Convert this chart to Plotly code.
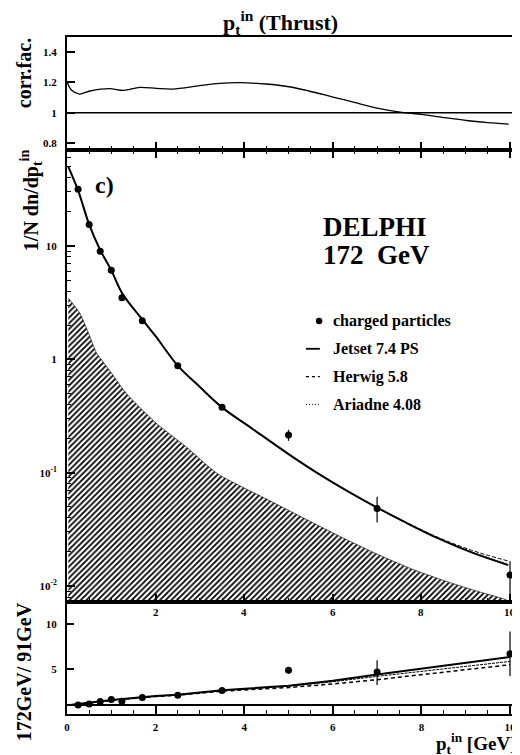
import plotly.graph_objects as go

# ---------------- data ----------------
CORR_X = [0.0, 0.1, 0.28, 0.52, 0.97, 1.27, 1.64, 2.02, 2.39, 2.99, 3.44, 3.89, 4.49,
          5.01, 5.46, 5.98, 6.51, 7.03, 7.56, 8.0, 8.53, 9.06, 9.5, 9.97]
CORR_Y = [1.204, 1.149, 1.123, 1.143, 1.158, 1.147, 1.167, 1.160, 1.156, 1.178, 1.193,
          1.198, 1.189, 1.171, 1.143, 1.105, 1.066, 1.029, 1.002, 0.989, 0.967, 0.947,
          0.934, 0.925]
CORR_REF = 1.0

PT_X = [0.25, 0.5, 0.75, 1.0, 1.24, 1.7, 2.5, 3.5, 5.0, 7.0, 10.0]
DATA_172 = [31.6, 15.5, 9.0, 6.1, 3.5, 2.19, 0.88, 0.377, 0.215, 0.0484, 0.0125]
DATA_ERR_UP = [0.8, 0.4, 0.25, 0.18, 0.1, 0.06, 0.03, 0.015, 0.024, 0.0128, 0.004]
DATA_ERR_DN = [0.8, 0.4, 0.25, 0.18, 0.1, 0.06, 0.03, 0.015, 0.024, 0.012, 0.0095]

MC_X = [0.03, 0.25, 0.5, 0.75, 1.0, 1.25, 1.7, 2.0, 2.5, 3.0, 3.5, 4.19, 5.0, 5.69,
        6.43, 7.0, 7.63, 8.38, 9.13, 9.96]
JETSET = [50, 31, 15.5, 9.2, 6.1, 3.8, 2.25, 1.6, 0.88, 0.57, 0.377, 0.243, 0.146,
          0.0972, 0.0654, 0.0492, 0.0366, 0.0263, 0.0198, 0.0153]
HERWIG = [50, 31, 15.5, 9.2, 6.1, 3.8, 2.25, 1.6, 0.88, 0.57, 0.377, 0.243, 0.146,
          0.0972, 0.0654, 0.0492, 0.0369, 0.0268, 0.0207, 0.0166]
ARIADNE = [50, 31, 15.5, 9.2, 6.1, 3.8, 2.25, 1.6, 0.88, 0.57, 0.377, 0.243, 0.146,
           0.0972, 0.0654, 0.0492, 0.0367, 0.0265, 0.0201, 0.0157]

BKG_X = [0.03, 0.29, 0.5, 0.67, 0.78, 1.0, 1.34, 2.02, 2.69, 3.14, 3.44, 4.56, 5.54,
         6.29, 7.03, 7.78, 8.53, 9.28, 9.88, 10.0]
BKG_Y = [3.47, 2.55, 1.65, 1.13, 0.99, 0.76, 0.50, 0.272, 0.169, 0.118, 0.0955, 0.057,
         0.0363, 0.0259, 0.0189, 0.01415, 0.0111, 0.00895, 0.00765, 0.0072]

RATIO = [1.0, 1.13, 1.39, 1.61, 1.42, 1.83, 2.09, 2.61, 4.87, 4.69, 6.72]
RATIO_ERR_UP = [0.05, 0.05, 0.06, 0.07, 0.08, 0.09, 0.1, 0.12, 0.38, 1.3, 2.5]
RATIO_ERR_DN = [0.05, 0.05, 0.06, 0.07, 0.08, 0.09, 0.1, 0.12, 0.38, 1.45, 2.5]
RATIO_MC_X = [0.07, 1.0, 2.0, 2.5, 3.5, 5.0, 6.0, 7.0, 10.0]
RATIO_JETSET = [1.0, 1.55, 2.0, 2.15, 2.65, 3.15, 3.7, 4.4, 6.36]
RATIO_ARIADNE = [1.0, 1.55, 2.0, 2.15, 2.63, 3.1, 3.6, 4.2, 5.87]
RATIO_HERWIG = [1.0, 1.52, 1.95, 2.1, 2.55, 2.95, 3.35, 3.83, 5.5]
RATIO_REF = 1.0

X_TICKS = [0, 2, 4, 6, 8, 10]
INNER_X_TICKS = [2, 4, 6, 8, 10]
CORR_TICKS = [0.8, 1, 1.2, 1.4]
LOG_TICKS = [0.01, 0.1, 1, 10]
LOG_TICKTEXT = ["10<sup>-2</sup>", "10<sup>-1</sup>", "1", "10"]
RATIO_TICKS = [5, 10]

LEGEND = [("charged particles", "dot"), ("Jetset 7.4 PS", "solid"),
          ("Herwig 5.8", "dash"), ("Ariadne 4.08", "dotline")]

# ---------------- layout geometry ----------------
# the page body has an 8px margin, so the figure is made 8px smaller and
# every position below is given in page pixels
OFF = 8
W, H = 520 - OFF, 755 - OFF
PL, PR, PT, PB = 67, 518, 37, 714          # plot area in page pixels
SERIF = "Liberation Serif"


def fx(px):
    return (px - PL) / (PR - PL)


def fy(py):
    return (PB - py) / (PB - PT)


def font(size):
    return dict(family=SERIF, size=size, color="black", weight="bold")


fig = go.Figure()

# top panel: correction factor
fig.add_trace(go.Scatter(x=CORR_X, y=CORR_Y, mode="lines",
                         line=dict(color="black", width=1.3, shape="spline", smoothing=0.8),
                         xaxis="x", yaxis="y", showlegend=False))

# main panel: hatched background
fig.add_trace(go.Scatter(x=BKG_X, y=BKG_Y, mode="lines", fill="tozeroy",
                         line=dict(color="black", width=0.6, shape="spline", smoothing=0.6),
                         fillcolor="rgba(0,0,0,0)",
                         fillpattern=dict(shape="/", fgcolor="black", bgcolor="white", size=4,
                                          solidity=0.45, fgopacity=1),
                         xaxis="x2", yaxis="y2", showlegend=False))
fig.add_trace(go.Scatter(x=MC_X, y=HERWIG, mode="lines",
                         line=dict(color="black", width=1, dash="4px,2px", shape="spline"),
                         xaxis="x2", yaxis="y2", showlegend=False))
fig.add_trace(go.Scatter(x=MC_X, y=ARIADNE, mode="lines",
                         line=dict(color="black", width=1, dash="1px,2px", shape="spline"),
                         xaxis="x2", yaxis="y2", showlegend=False))
fig.add_trace(go.Scatter(x=MC_X, y=JETSET, mode="lines",
                         line=dict(color="black", width=2, shape="spline"),
                         xaxis="x2", yaxis="y2", showlegend=False))
fig.add_trace(go.Scatter(x=PT_X, y=DATA_172, mode="markers", marker=dict(color="black", size=7),
                         error_y=dict(type="data", array=DATA_ERR_UP, arrayminus=DATA_ERR_DN, symmetric=False,
                                      color="black", thickness=1.2, width=0),
                         xaxis="x2", yaxis="y2", showlegend=False))

# bottom panel: ratio
fig.add_trace(go.Scatter(x=RATIO_MC_X, y=RATIO_HERWIG, mode="lines",
                         line=dict(color="black", width=1.5, dash="4px,3px"),
                         xaxis="x3", yaxis="y3", showlegend=False))
fig.add_trace(go.Scatter(x=RATIO_MC_X, y=RATIO_ARIADNE, mode="lines",
                         line=dict(color="black", width=1, dash="3px,1px"),
                         xaxis="x3", yaxis="y3", showlegend=False))
fig.add_trace(go.Scatter(x=RATIO_MC_X, y=RATIO_JETSET, mode="lines",
                         line=dict(color="black", width=2),
                         xaxis="x3", yaxis="y3", showlegend=False))
fig.add_trace(go.Scatter(x=PT_X, y=RATIO, mode="markers", marker=dict(color="black", size=7),
                         error_y=dict(type="data", array=RATIO_ERR_UP, arrayminus=RATIO_ERR_DN, symmetric=False,
                                      color="black", thickness=1.2, width=0),
                         xaxis="x3", yaxis="y3", showlegend=False))

XR = [0, 10.135]
axis_common = dict(showline=True, linecolor="black", linewidth=2, showgrid=False, zeroline=False,
                   tickcolor="black", tickfont=font(11))
minor_x = dict(dtick=0.5, tick0=0, ticks="inside", ticklen=4, tickwidth=1, tickcolor="black", showgrid=False)

d_top = [fy(150), 1.0]
d_main = [fy(602), fy(150)]
d_bot = [0.0, fy(602)]

minor_log = [m * 10 ** e for e in (-3, -2, -1, 0, 1) for m in (2, 3, 4, 5, 6, 7, 8, 9)]

fig.update_layout(
    width=W, height=H,
    margin=dict(l=PL - OFF, r=(W + OFF) - PR, t=PT - OFF, b=(H + OFF) - PB),
    paper_bgcolor="white", plot_bgcolor="white",
    hovermode=False, showlegend=False,
    xaxis=dict(domain=[0, 1], anchor="y", range=XR, tickmode="array", tickvals=X_TICKS, ticks="inside",
               ticklen=8, tickwidth=1.5, showticklabels=False, mirror=True, minor=minor_x, **axis_common),
    yaxis=dict(domain=d_top, anchor="x", range=[0.754, 1.499], tickmode="array", tickvals=CORR_TICKS,
               ticktext=[str(t) for t in CORR_TICKS], ticks="inside", ticklen=8, tickwidth=1.5,
               mirror=True, ticklabelstandoff=6, **axis_common),
    xaxis2=dict(domain=[0, 1], anchor="y2", range=XR, tickmode="array", tickvals=X_TICKS, ticks="inside",
                ticklen=8, tickwidth=1.5, showticklabels=False, mirror="ticks", minor=minor_x, **axis_common),
    yaxis2=dict(domain=d_main, anchor="x2", type="log", range=[-2.141, 1.847], tickmode="array",
                tickvals=LOG_TICKS, ticktext=LOG_TICKTEXT, ticks="inside", ticklen=8, tickwidth=1.5,
                mirror=True, ticklabelstandoff=6,
                minor=dict(tickmode="array", tickvals=minor_log, ticks="inside", ticklen=4, tickwidth=1,
                           tickcolor="black", showgrid=False),
                **axis_common),
    xaxis3=dict(domain=[0, 1], anchor="y3", range=XR, tickmode="array", tickvals=X_TICKS,
                ticktext=[str(t) for t in X_TICKS], ticks="inside", ticklen=8, tickwidth=1.5,
                mirror=True, minor=minor_x, ticklabelstandoff=2, **axis_common),
    yaxis3=dict(domain=d_bot, anchor="x3", range=[0, 12.5], tickmode="array", tickvals=RATIO_TICKS,
                ticktext=[str(t) for t in RATIO_TICKS], ticks="inside", ticklen=7, tickwidth=1.5,
                mirror=True, ticklabelstandoff=6, **axis_common),
)

shapes = [
    dict(type="line", xref="x domain", yref="y", x0=0, x1=1, y0=CORR_REF, y1=CORR_REF,
         line=dict(color="black", width=1.6)),
    dict(type="line", xref="x3 domain", yref="y3", x0=0, x1=1, y0=RATIO_REF, y1=RATIO_REF,
         line=dict(color="black", width=2)),
]

annotations = [
    dict(text="p<sub>t</sub><sup>in</sup> (Thrust)", x=fx(281), y=fy(22), size=22),
    dict(text="corr.fac.", x=fx(24), y=fy(73), textangle=-90, size=20),
    dict(text="1/N dn/dp<sub>t</sub><sup>in</sup>", x=fx(31), y=fy(200), textangle=-90, size=20),
    dict(text="172GeV/ 91GeV", x=fx(24), y=fy(672), textangle=-90, size=20),
    dict(text="c)", x=fx(105), y=fy(185), size=24),
    dict(text="DELPHI", x=fx(322), y=fy(227), size=27, xanchor="left"),
    dict(text="172  GeV", x=fx(322), y=fy(255), size=27, xanchor="left"),
    dict(text="p<sub>t</sub><sup>in</sup> [GeV]", x=fx(436), y=fy(743.5), size=19, xanchor="left"),
]
ann_list = []
for a in annotations:
    ann_list.append(dict(text=a["text"], x=a["x"], y=a["y"], xref="paper", yref="paper",
                         xanchor=a.get("xanchor", "center"), yanchor="middle", showarrow=False,
                         textangle=a.get("textangle", 0), font=font(a.get("size", 17))))

# inner tick labels of the main panel (drawn at the top of the ratio panel)
for t in INNER_X_TICKS:
    ann_list.append(dict(text=str(t), x=t, xref="x3", y=fy(612), yref="paper", showarrow=False,
                         xanchor="center", yanchor="middle", font=font(11)))

# legend
LEG_Y0, LEG_DY = 321, 27.8
for i, (label, kind) in enumerate(LEGEND):
    py = LEG_Y0 + i * LEG_DY
    ann_list.append(dict(text=label, x=fx(332), y=fy(py), xref="paper", yref="paper", showarrow=False,
                         xanchor="left", yanchor="middle", font=font(16)))
    if kind == "dot":
        shapes.append(dict(type="circle", xref="paper", yref="paper", x0=fx(317), x1=fx(323.5),
                           y0=fy(py + 3.2), y1=fy(py - 3.2), fillcolor="black",
                           line=dict(color="black", width=0)))
    else:
        dash = {"solid": "solid", "dash": "3px,3px", "dotline": "1px,2px"}[kind]
        width = {"solid": 1.8, "dash": 1.2, "dotline": 1}[kind]
        shapes.append(dict(type="line", xref="paper", yref="paper", x0=fx(307), x1=fx(321),
                           y0=fy(py), y1=fy(py), line=dict(color="black", width=width, dash=dash)))

fig.update_layout(shapes=shapes, annotations=ann_list)

fig.write_html("out.html", config={"displayModeBar": False})
